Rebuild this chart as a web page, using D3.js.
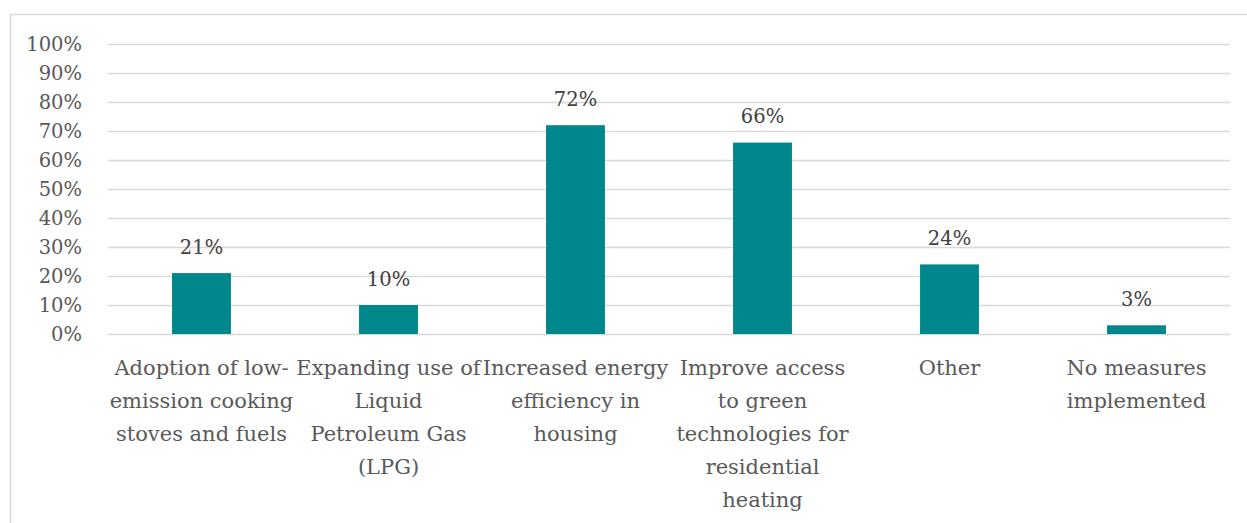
<!DOCTYPE html>
<html><head><meta charset="utf-8">
<script src="https://cdn.jsdelivr.net/npm/d3@7"></script>
<style>body{margin:0;background:#fff;} svg{display:block;}</style>
</head><body>
<svg id="c" width="1247" height="523"></svg>
<script>
const categories = [
  "Adoption of low-|emission cooking|stoves and fuels",
  "Expanding use of|Liquid|Petroleum Gas|(LPG)",
  "Increased energy|efficiency in|housing",
  "Improve access|to green|technologies for|residential|heating",
  "Other",
  "No measures|implemented"
];
const values = [21, 10, 72, 66, 24, 3];
const yTicks = [0,10,20,30,40,50,60,70,80,90,100];

const svg = d3.select("#c");
const font = "DejaVu Serif, Liberation Serif, serif";
svg.append("rect").attr("x",10.5).attr("y",14.5).attr("width",1250).attr("height",520)
  .attr("fill","none").attr("stroke","#d9d9d9").attr("stroke-width",1.5);

const x = d3.scaleBand().domain(d3.range(categories.length)).range([108,1230]).paddingInner(0.685).paddingOuter(0.3425);
const y = d3.scaleLinear().domain([0,100]).range([334,44]);

const g = svg.append("g");
g.selectAll("line.grid").data(yTicks).join("line")
  .attr("x1",108).attr("x2",1230).attr("y1",d=>Math.round(y(d))+0.5).attr("y2",d=>Math.round(y(d))+0.5)
  .attr("stroke","#d9d9d9").attr("stroke-width",1.3);

g.selectAll("text.ytick").data(yTicks).join("text")
  .attr("x",82).attr("y",d=>y(d)).attr("dy","0.35em").attr("text-anchor","end")
  .attr("font-family",font).attr("font-size",19.5).attr("fill","#595959")
  .text(d=>d+"%");

g.selectAll("rect.bar").data(values).join("rect")
  .attr("x",(d,i)=>x(i)).attr("width",x.bandwidth())
  .attr("y",d=>y(d)).attr("height",d=>y(0)-y(d)).attr("fill","#00878c");

g.selectAll("text.val").data(values).join("text")
  .attr("x",(d,i)=>x(i)+x.bandwidth()/2).attr("y",d=>y(d)-26).attr("dy","0.35em")
  .attr("text-anchor","middle").attr("font-family",font).attr("font-size",19.5).attr("fill","#404040")
  .text(d=>d+"%");

categories.forEach((c,i)=>{
  const lines = c.split("|");
  const t = g.append("text").attr("text-anchor","middle").attr("font-family",font)
    .attr("font-size",21).attr("fill","#595959");
  lines.forEach((l,j)=>{
    t.append("tspan").attr("x",x(i)+x.bandwidth()/2).attr("y",368+j*33).attr("dy","0.35em").text(l);
  });
});
</script>
</body></html>
